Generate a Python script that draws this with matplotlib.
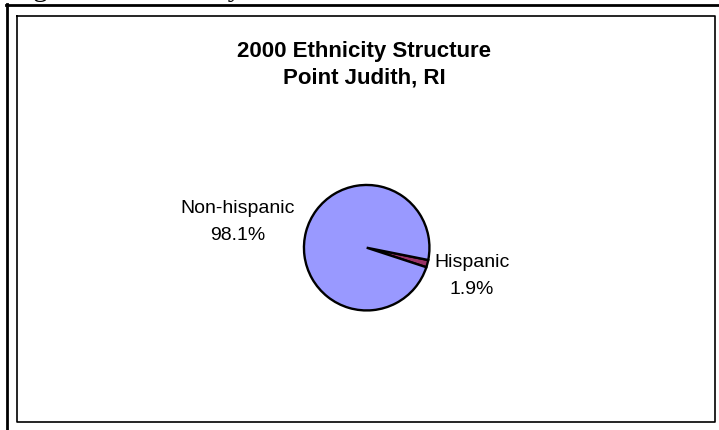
import matplotlib
matplotlib.use("Agg")
import matplotlib.pyplot as plt
from matplotlib.lines import Line2D

# Data
categories = ["Hispanic", "Non-hispanic"]
shares = [1.9, 98.1]
colors = ["#993366", "#9999FF"]
title_lines = ["2000 Ethnicity Structure", "Point Judith, RI"]

W, H = 719, 430
fig = plt.figure(figsize=(W / 100, H / 100), dpi=100)
fig.patch.set_facecolor("white")


def fx(px):
    return px / W


def fy(py):
    return 1 - py / H


# Caption of the surrounding document, cropped at the top edge
fig.text(fx(9), fy(-3.5), "Figure 22. Ethnicity Structure", fontsize=21,
         family="Liberation Serif", ha="left", va="baseline")

# Outer frame (top and left rules)
fig.add_artist(Line2D([fx(6), fx(719)], [fy(5), fy(5)], color="black", lw=2.0,
                      transform=fig.transFigure))
fig.add_artist(Line2D([fx(7), fx(7)], [fy(4), fy(430)], color="black", lw=2.0,
                      transform=fig.transFigure))

# Chart area border
fig.add_artist(Line2D([fx(16.5), fx(715), fx(715), fx(16.5), fx(16.5)],
                      [fy(16), fy(16), fy(422), fy(422), fy(16)],
                      color="black", lw=1.2, transform=fig.transFigure))

# Title
fig.text(fx(364), fy(57.5), title_lines[0], fontsize=16, fontweight="bold",
         family="Liberation Sans", ha="center", va="baseline")
fig.text(fx(364), fy(83.5), title_lines[1], fontsize=16, fontweight="bold",
         family="Liberation Sans", ha="center", va="baseline")

# Pie
cx, cy, r = 366.7, 247.7, 64
ax = fig.add_axes([fx(cx - r), fy(cy + r), 2 * r / W, 2 * r / H])
ax.pie(shares, colors=colors, startangle=-11.3, counterclock=False, radius=1,
       wedgeprops=dict(edgecolor="black", linewidth=1.7))
ax.set_xlim(-1.02, 1.02)
ax.set_ylim(-1.02, 1.02)
ax.set_aspect("equal")
ax.axis("off")

# Data labels: name on the first line, percentage on the second
label_pos = {"Non-hispanic": (238, 213.3, 240.0), "Hispanic": (472, 266.7, 294.5)}
for name, val in zip(categories, shares):
    x, y1, y2 = label_pos[name]
    fig.text(fx(x), fy(y1), name, fontsize=14, family="Liberation Sans",
             ha="center", va="baseline")
    fig.text(fx(x), fy(y2), f"{val:.1f}%", fontsize=14, family="Liberation Sans",
             ha="center", va="baseline")

fig.savefig("out.png", dpi=100, facecolor="white")
